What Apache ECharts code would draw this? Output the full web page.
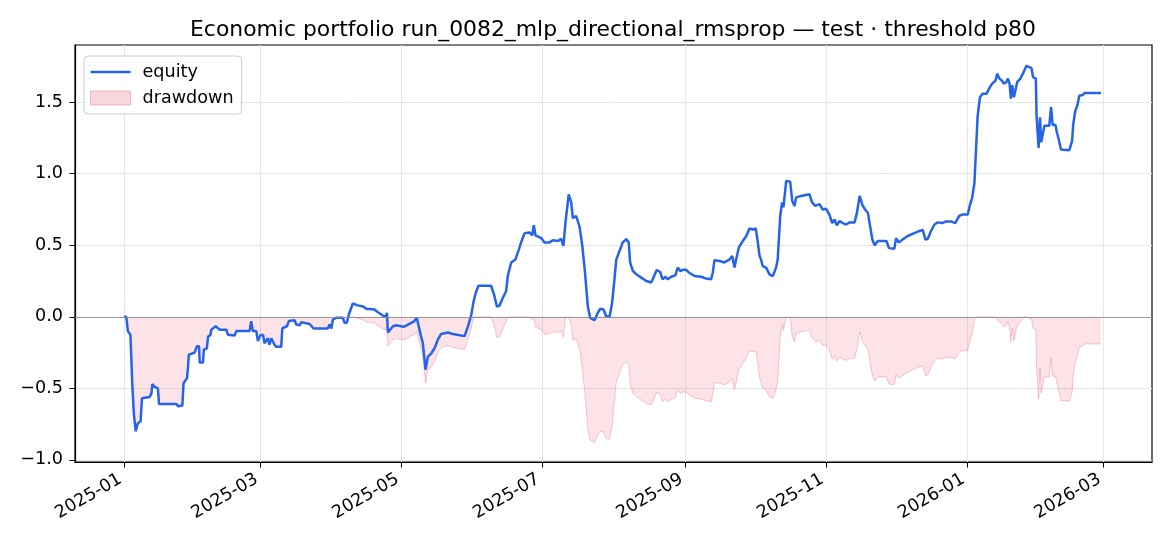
<!DOCTYPE html>
<html>
<head>
<meta charset="utf-8">
<script src="https://cdn.jsdelivr.net/npm/echarts@6/dist/echarts.min.js"></script>
<style>
html,body{margin:0;padding:0;background:#fff;}
#chart{width:1170px;height:546px;}
</style>
</head>
<body>
<div id="chart"></div>
<script>
// ---- data ----
const startDate = '2025-01-01';
// days since startDate
const dayOffsets = [
0,1,1.7,2.8,3.6,4.3,5.1,6.0,7.2,7.8,11.1,11.9,12.3,13.3,14.7,15.2,22.7,23.4,25.3,25.8,
27.3,27.7,28.1,30.6,31.6,32.5,32.8,34.2,34.6,35.9,36.4,37.5,37.8,39.7,41.4,44.3,45.0,47.9,48.7,54.4,
55.1,55.8,57.3,58.0,59.0,60.2,60.9,62.3,63.0,63.8,65.2,66.0,68.1,68.6,70.6,71.4,73.9,74.6,76.1,76.8,
80.4,82.1,88.3,89.0,89.8,90.5,91.9,94.8,95.5,96.5,97.4,99.1,101.3,103.8,104.9,108.5,110.0,112.1,113.3,113.9,
114.3,116.5,117.9,121.1,123.0,125.8,126.8,127.7,128.7,129.4,130.6,131.6,133.1,134.5,135.9,137.4,140.3,142.4,147.5,148.9,
150.4,151.4,152.3,153.5,159.0,160.5,161.5,162.6,164.0,165.5,166.2,167.7,169.5,171.0,172.0,173.5,175.6,176.8,177.5,178.2,
180.7,182.1,184.3,185.7,187.9,189.3,190.3,191.2,192.6,193.7,194.4,195.8,197.3,198.5,199.6,200.9,201.9,203.8,205.2,206.2,
207.7,208.8,210.3,211.4,212.4,213.2,214.6,216.0,217.5,218.6,219.2,220.4,221.9,224.0,226.2,228.3,229.3,230.7,232.2,233.3,
234.5,235.5,237.0,238.8,239.8,240.9,242.3,243.5,244.6,247.1,250.0,252.1,254.3,255.0,255.7,257.9,260.0,262.2,263.4,264.4,
265.1,266.3,268.0,269.5,270.9,272.4,273.6,274.5,275.2,275.9,276.6,278.1,279.5,281.0,282.4,283.1,284.2,285.0,285.6,286.8,
288.5,289.4,290.4,291.1,293.3,296.8,298.0,299.4,301.2,302.6,304.1,305.5,306.7,307.7,308.7,309.9,311.3,312.8,314.2,316.4,
317.4,318.6,319.8,321.2,322.2,322.9,324.1,325.1,326.5,330.2,331.3,333.6,334.4,335.5,337.2,339.4,342.3,344.5,345.9,347.1,
348.1,349.5,351.0,352.4,354.3,356.1,358.2,360.0,361.7,363.2,365.4,366.4,367.3,368.3,369.0,369.7,370.7,371.9,373.6,374.8,
376.0,377.4,378.2,379.1,380.3,381.0,382.1,382.8,383.5,384.1,384.7,385.4,386.2,386.8,388.2,389.6,390.8,392.0,393.0,393.7,
394.9,395.2,396.0,396.1,396.7,397.2,397.8,398.6,400.7,401.5,402.2,403.4,404.0,404.8,405.4,405.8,409.4,410.6,411.1,412.0,
413.0,413.7,415.2,415.9,423.1
];
const equity = [
0.0,0.0,-0.10,-0.125,-0.47,-0.68,-0.80,-0.745,-0.73,-0.57,-0.56,-0.535,-0.47,-0.49,-0.50,-0.61,-0.61,-0.625,-0.62,-0.465,
-0.43,-0.36,-0.265,-0.25,-0.205,-0.205,-0.32,-0.32,-0.23,-0.22,-0.14,-0.125,-0.09,-0.066,-0.09,-0.09,-0.125,-0.13,-0.10,-0.10,
-0.03,-0.10,-0.10,-0.17,-0.13,-0.125,-0.185,-0.15,-0.195,-0.15,-0.195,-0.21,-0.21,-0.08,-0.066,-0.03,-0.024,-0.054,-0.06,-0.038,
-0.05,-0.082,-0.082,-0.054,-0.082,-0.019,-0.007,-0.007,-0.042,-0.042,0.016,0.093,0.08,0.07,0.056,0.051,0.032,0.009,0.0,0.028,
-0.11,-0.066,-0.059,-0.07,-0.054,-0.03,-0.007,-0.07,-0.14,-0.18,-0.37,-0.28,-0.255,-0.22,-0.16,-0.12,-0.11,-0.12,-0.135,-0.07,
0.012,0.106,0.165,0.217,0.217,0.142,0.072,0.077,0.13,0.18,0.285,0.38,0.40,0.47,0.52,0.585,0.59,0.57,0.64,0.57,
0.55,0.52,0.52,0.535,0.53,0.545,0.495,0.66,0.855,0.80,0.69,0.705,0.63,0.495,0.32,0.07,-0.007,-0.024,0.028,0.056,
0.051,0.004,0.0,0.098,0.26,0.40,0.46,0.52,0.543,0.52,0.38,0.32,0.297,0.274,0.25,0.24,0.274,0.327,0.313,0.262,
0.28,0.262,0.28,0.29,0.344,0.32,0.33,0.327,0.31,0.285,0.28,0.267,0.262,0.31,0.395,0.39,0.38,0.40,0.425,0.344,
0.40,0.485,0.53,0.565,0.617,0.61,0.617,0.52,0.43,0.40,0.355,0.344,0.297,0.285,0.344,0.40,0.705,0.80,0.765,0.95,
0.945,0.81,0.775,0.835,0.845,0.857,0.80,0.775,0.787,0.75,0.755,0.715,0.655,0.68,0.64,0.67,0.655,0.645,0.66,0.66,
0.725,0.845,0.78,0.745,0.725,0.655,0.54,0.50,0.53,0.53,0.48,0.475,0.55,0.52,0.54,0.565,0.585,0.60,0.607,0.54,
0.545,0.60,0.645,0.66,0.655,0.667,0.667,0.655,0.705,0.715,0.715,0.785,0.83,0.935,1.17,1.405,1.535,1.56,1.56,1.60,
1.63,1.65,1.70,1.665,1.65,1.63,1.64,1.665,1.63,1.525,1.62,1.535,1.545,1.64,1.665,1.71,1.755,1.745,1.74,1.675,
1.665,1.405,1.395,1.18,1.395,1.22,1.22,1.335,1.335,1.465,1.34,1.34,1.29,1.24,1.24,1.17,1.165,1.23,1.35,1.44,
1.485,1.545,1.55,1.565,1.565
];
const xTickDates = ['2025-01-01','2025-03-01','2025-05-01','2025-07-01','2025-09-01','2025-11-01','2026-01-01','2026-03-01'];
const yTickValues = [-1.0, -0.5, 0.0, 0.5, 1.0, 1.5];
const seriesNames = ['equity', 'drawdown'];
const titleText = 'Economic portfolio run_0082_mlp_directional_rmsprop \u2014 test \u00b7 threshold p80';

// ---- build ----
const DAY = 86400000;
function toMs(s) { const p = s.split('-').map(Number); return Date.UTC(p[0], p[1] - 1, p[2]); }
const t0 = toMs(startDate);
const eqData = dayOffsets.map((d, i) => [t0 + d * DAY, equity[i]]);
let peak = -Infinity;
const ddData = dayOffsets.map((d, i) => { peak = Math.max(peak, equity[i]); return [t0 + d * DAY, equity[i] - peak]; });
const xTicks = xTickDates.map(toMs);
const xMin = t0 - 21.2 * DAY;
const xMax = t0 + 445.2 * DAY;

const FONT = 'DejaVu Sans';
const TICK_FS = 17.6;
const chart = echarts.init(document.getElementById('chart'), null, { renderer: 'canvas' });
chart.setOption({
  animation: false,
  backgroundColor: '#ffffff',
  title: {
    text: titleText,
    left: 608,
    top: 14,
    textAlign: 'center',
    textStyle: { fontFamily: FONT, fontSize: 21.9, fontWeight: 'normal', color: '#000' }
  },
  legend: {
    left: 84, top: 56, orient: 'vertical',
    itemWidth: 40, itemHeight: 14, itemGap: 8,
    padding: [7, 8, 7, 6],
    backgroundColor: 'rgba(255,255,255,0.8)',
    borderColor: '#cccccc', borderWidth: 1, borderRadius: 4,
    textStyle: { fontFamily: FONT, fontSize: TICK_FS, color: '#000', padding: [0, 0, 0, 7] },
    data: [
      { name: seriesNames[0], icon: 'path://M0,0H40V2.6H0Z', itemStyle: { color: '#2563eb' } },
      { name: seriesNames[1], icon: 'rect', itemStyle: { color: 'rgba(220,20,60,0.17)', borderColor: 'rgba(220,20,60,0.25)', borderWidth: 1 } }
    ]
  },
  grid: { left: 75, right: 18, top: 45, bottom: 84, show: true, borderColor: '#000', borderWidth: 1.2, backgroundColor: 'transparent' },
  xAxis: {
    type: 'value', min: xMin, max: xMax,
    axisLine: { show: true, onZero: false, lineStyle: { color: '#000', width: 1.2 } },
    axisTick: { show: true, length: 5.5, lineStyle: { color: '#000', width: 1 }, customValues: xTicks },
    axisLabel: {
      customValues: xTicks, rotate: 30, margin: 14, padding: [0, 4, 0, 0],
      fontFamily: FONT, fontSize: TICK_FS, color: '#000',
      formatter: function (v) { const d = new Date(v); return d.getUTCFullYear() + '-' + String(d.getUTCMonth() + 1).padStart(2, '0'); }
    },
    splitLine: { show: true, lineStyle: { color: '#e6e6e6', width: 1 } }
  },
  yAxis: {
    type: 'value', min: -1.015, max: 1.9, interval: 0.5,
    axisLine: { show: true, lineStyle: { color: '#000', width: 1.2 } },
    axisTick: { show: true, length: 5.5, lineStyle: { color: '#000', width: 1 }, customValues: yTickValues },
    axisLabel: {
      customValues: yTickValues, margin: 12,
      fontFamily: FONT, fontSize: TICK_FS, color: '#000',
      formatter: function (v) { return (v < 0 ? '\u2212' : '') + Math.abs(v).toFixed(1); }
    },
    splitLine: { show: true, lineStyle: { color: '#e6e6e6', width: 1 } }
  },
  series: [
    {
      name: seriesNames[1], type: 'line', data: ddData, symbol: 'none', z: 2,
      color: 'rgba(220,20,60,0.17)',
      lineStyle: { color: 'rgba(220,20,60,0.22)', width: 1 },
      areaStyle: { color: 'rgba(220,20,60,0.17)', origin: 'auto' },
      markLine: {
        silent: true, symbol: ['none', 'none'], label: { show: false },
        lineStyle: { color: '#8a8a8a', width: 1.1, type: 'solid', opacity: 0.85 },
        data: [{ yAxis: 0 }]
      }
    },
    {
      name: seriesNames[0], type: 'line', data: eqData, symbol: 'none', z: 3,
      color: '#2563eb',
      lineStyle: { color: '#2563eb', width: 2.5 }
    }
  ]
});
</script>
</body>
</html>
